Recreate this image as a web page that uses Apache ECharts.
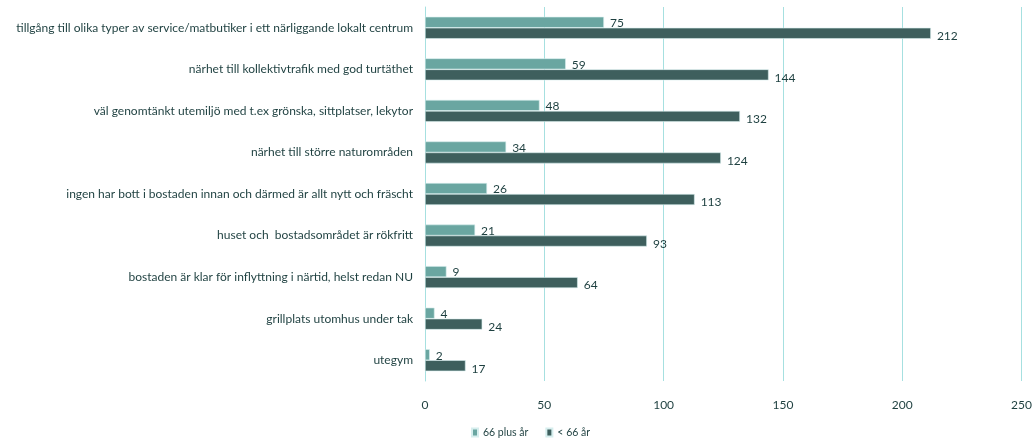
<!DOCTYPE html>
<html>
<head>
<meta charset="utf-8">
<script src="https://cdn.jsdelivr.net/npm/echarts@6/dist/echarts.min.js"></script>
<style>
  html, body { margin: 0; padding: 0; background: #ffffff; }
  #chart { width: 1035px; height: 440px; }
</style>
</head>
<body>
<div id="chart"></div>
<script>
// Categories listed top to bottom
const categories = [
  'tillgång till olika typer av service/matbutiker i ett närliggande lokalt centrum',
  'närhet till kollektivtrafik med god turtäthet',
  'väl genomtänkt utemiljö med t.ex grönska, sittplatser, lekytor',
  'närhet till större naturområden',
  'ingen har bott i bostaden innan och därmed är allt nytt och fräscht',
  'huset och  bostadsområdet är rökfritt',
  'bostaden är klar för inflyttning i närtid, helst redan NU',
  'grillplats utomhus under tak',
  'utegym'
];
const seniors = [75, 59, 48, 34, 26, 21, 9, 4, 2];
const younger = [212, 144, 132, 124, 113, 93, 64, 24, 17];
const seriesNames = ['66 plus år', '< 66 år'];

const textColor = '#1d3f3f';
const font = 'Lato';

const chart = echarts.init(document.getElementById('chart'));
chart.setOption({
  animation: false,
  textStyle: { fontFamily: font },
  grid: { left: 425, right: 10, top: 7, bottom: 59, containLabel: false },
  legend: {
    top: 422,
    left: 466,
    itemWidth: 6,
    itemHeight: 8,
    itemGap: 17,
    icon: 'rect',
    textStyle: { color: textColor, fontSize: 10.5, fontFamily: font },
    data: seriesNames
  },
  xAxis: {
    type: 'value',
    min: 0,
    max: 250,
    interval: 50,
    axisLine: { show: false },
    axisTick: { show: false },
    axisLabel: { color: textColor, fontSize: 12, margin: 18, fontFamily: font },
    splitLine: { lineStyle: { color: '#a6e0e0', width: 1 } }
  },
  yAxis: {
    type: 'category',
    inverse: true,
    data: categories,
    axisLine: { show: true, lineStyle: { color: '#a6e0e0' } },
    axisTick: { show: false },
    axisLabel: { color: textColor, fontSize: 12, margin: 12, fontFamily: font }
  },
  series: [
    {
      name: seriesNames[0],
      type: 'bar',
      data: seniors,
      barWidth: 11,
      barGap: '0%',
      itemStyle: { color: '#6aa6a1', borderColor: '#d6eeee', borderWidth: 0.6 },
      label: { show: true, position: 'right', distance: 6, offset: [0, 1], color: textColor, fontSize: 12, fontFamily: font }
    },
    {
      name: seriesNames[1],
      type: 'bar',
      data: younger,
      barWidth: 11,
      barGap: '0%',
      itemStyle: { color: '#3e5f5d', borderColor: '#d6eeee', borderWidth: 0.6 },
      label: { show: true, position: 'right', distance: 6, offset: [0, 3], color: textColor, fontSize: 12, fontFamily: font }
    }
  ]
});
</script>
</body>
</html>
